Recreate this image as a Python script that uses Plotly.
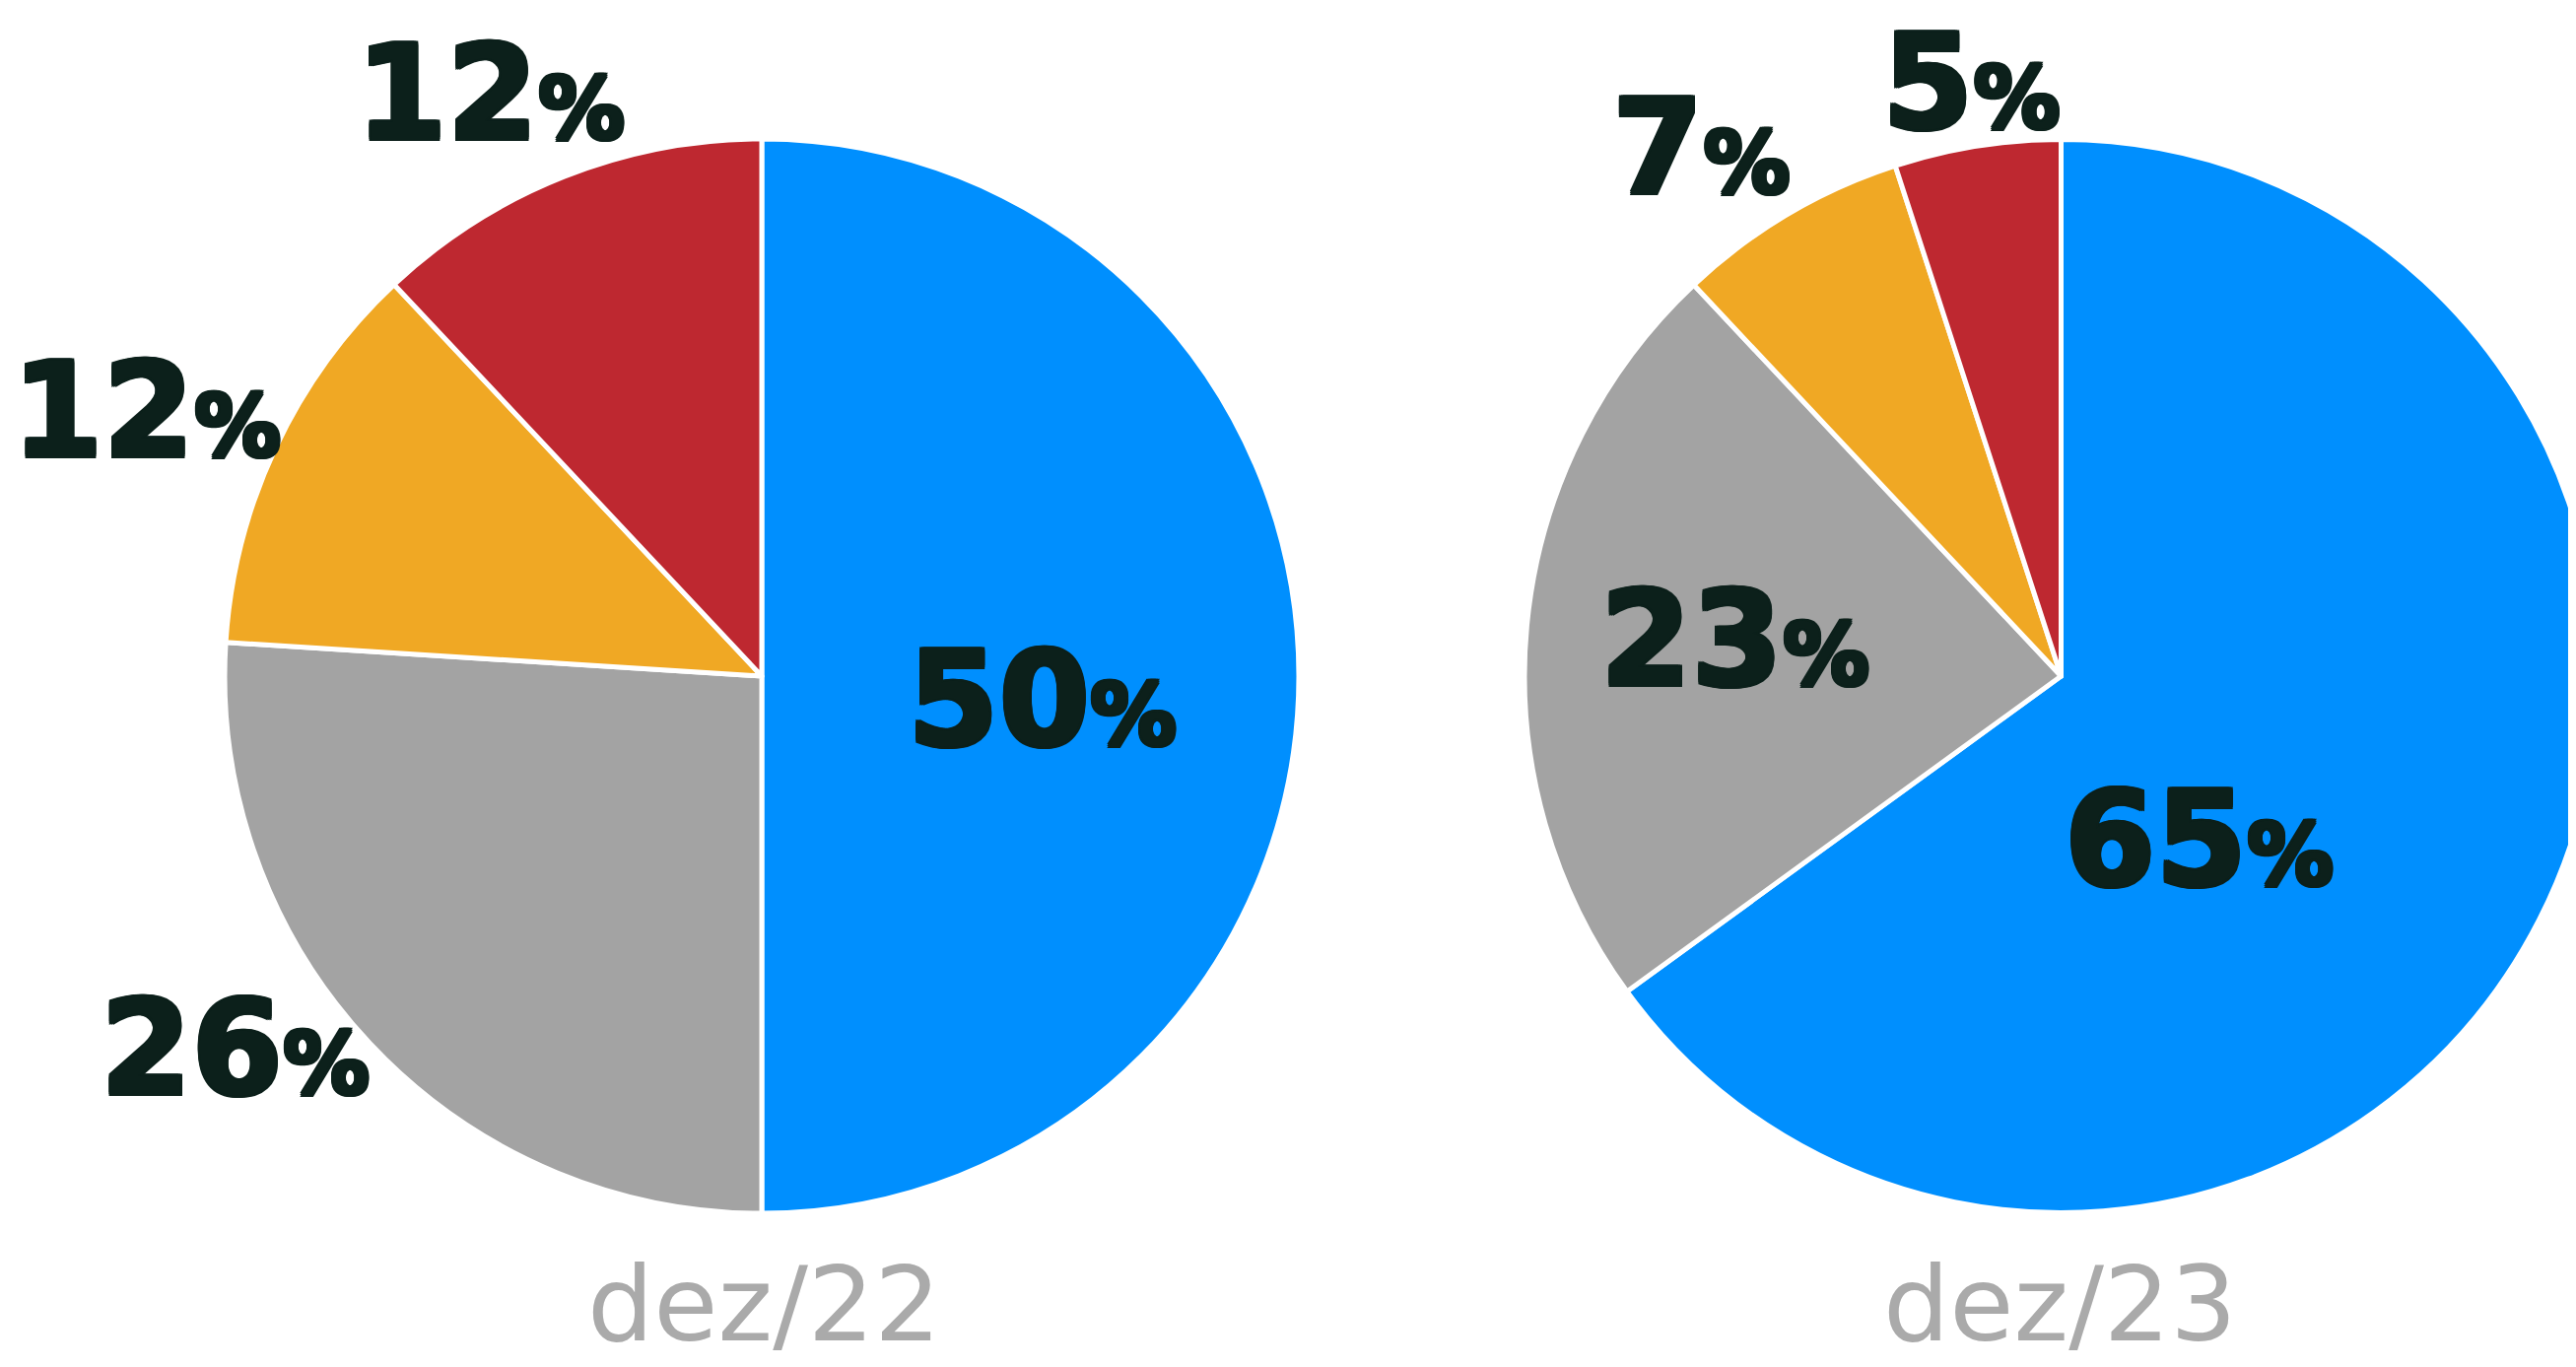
import plotly.graph_objects as go

# ---- data ----
categories = ["Azul", "Cinza", "Laranja", "Vermelho"]
values_dez22 = [50, 26, 12, 12]
values_dez23 = [65, 23, 7, 5]
period_labels = ["dez/22", "dez/23"]

# ---- styles ----
slice_colors = ["#008ffe", "#a3a3a3", "#f0a824", "#be2830"]
text_color = "#0c201b"
sub_color = "#aaaaaa"

# the page body adds an 8px offset; the figure is a bit wider than the window
# so the right pie is clipped at the window edge, as in the reference
OFF = 8
W, H = 2628, 1379


def px_x(x):
    return (x - OFF) / W


def px_y(y):
    return 1 - (y - OFF) / H


fig = go.Figure()

# pie geometry (screen pixels)
pies = [
    dict(values=values_dez22, cx=773, cy=686, r=545),
    dict(values=values_dez23, cx=2092, cy=686, r=545),
]
for p in pies:
    x0 = max(0.0, px_x(p["cx"] - p["r"]))
    x1 = min(1.0, px_x(p["cx"] + p["r"]))
    y0 = max(0.0, px_y(p["cy"] + p["r"]))
    y1 = min(1.0, px_y(p["cy"] - p["r"]))
    fig.add_trace(go.Pie(
        labels=categories,
        values=p["values"],
        sort=False,
        direction="clockwise",
        rotation=0,
        textinfo="none",
        hoverinfo="label+percent",
        marker=dict(colors=slice_colors, line=dict(color="white", width=5)),
        domain=dict(x=[x0, x1], y=[y0, y1]),
        showlegend=False,
    ))

# label positions (screen pixel centres) for each slice
label_pos_dez22 = [(1057, 710), (238, 1064), (148, 417), (497, 95)]
label_pos_dez23 = [(2231, 852), (1760, 649), (1727, 150), (2000, 84)]

big = 133
small = 88
sc = text_color
shadow = ", ".join(
    f"{dx}px {dy}px 0px {sc}"
    for dx, dy in [(2, 0), (-2, 0), (0, 2), (0, -2), (2, 2), (-2, -2), (2, -2), (-2, 2)]
)
for vals, poss in [(values_dez22, label_pos_dez22), (values_dez23, label_pos_dez23)]:
    for v, (x, y) in zip(vals, poss):
        fig.add_annotation(
            x=px_x(x), y=px_y(y), xref="paper", yref="paper",
            xanchor="center", yanchor="middle",
            text=f"{v}<span style='font-size:{small}px'>%</span>",
            showarrow=False,
            font=dict(family="DejaVu Sans", size=big, color=text_color,
                      weight="bold", shadow=shadow),
        )

sub_pos = [(775, 1323), (2090, 1323)]
for lab, (x, y) in zip(period_labels, sub_pos):
    fig.add_annotation(
        x=px_x(x), y=px_y(y), xref="paper", yref="paper",
        xanchor="center", yanchor="middle",
        text=lab, showarrow=False,
        font=dict(family="DejaVu Sans", size=106, color=sub_color),
    )

fig.update_layout(
    width=W, height=H,
    margin=dict(l=0, r=0, t=0, b=0),
    paper_bgcolor="white",
    plot_bgcolor="white",
)

fig.write_html("out.html")
